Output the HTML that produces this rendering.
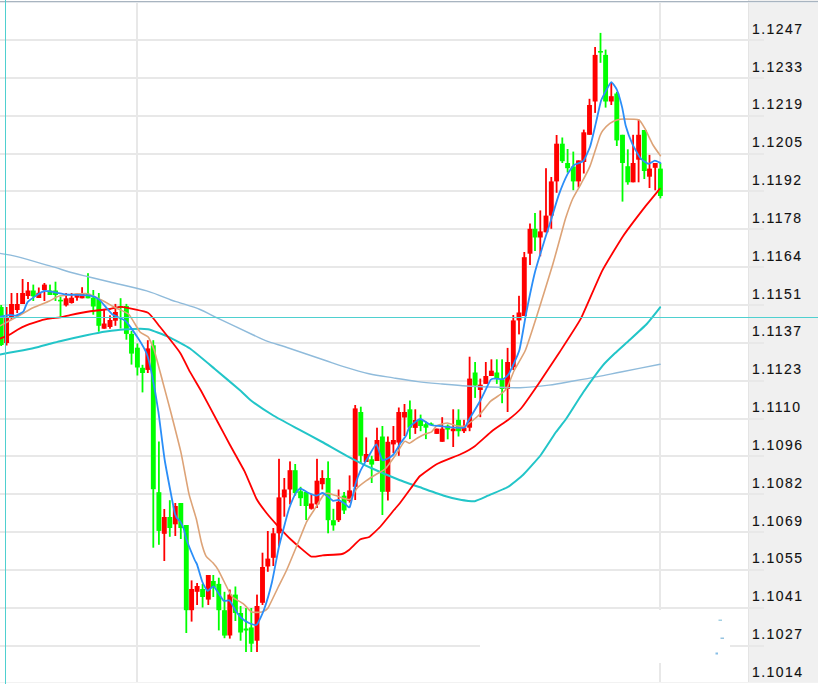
<!DOCTYPE html>
<html><head><meta charset="utf-8">
<style>
html,body{margin:0;padding:0;background:#fff;}
body{width:818px;height:684px;overflow:hidden;position:relative;}
svg{position:absolute;left:0;top:0;}
text{font-family:"Liberation Sans",sans-serif;font-size:14px;fill:#111;letter-spacing:1.45px;stroke:#111;stroke-width:0.12px;}
</style></head><body>
<svg width="818" height="684" viewBox="0 0 818 684">
<g shape-rendering="crispEdges">
<rect x="748" y="0" width="70" height="682" fill="#f0f0f0"/>
<rect x="748" y="0" width="1" height="682" fill="#e4e4e4"/>
<rect x="0" y="39" width="764" height="2" fill="#e8e8e8"/>
<rect x="0" y="77" width="764" height="2" fill="#e8e8e8"/>
<rect x="0" y="115" width="764" height="2" fill="#e8e8e8"/>
<rect x="0" y="153" width="764" height="2" fill="#e8e8e8"/>
<rect x="0" y="190" width="764" height="2" fill="#e8e8e8"/>
<rect x="0" y="228" width="764" height="2" fill="#e8e8e8"/>
<rect x="0" y="266" width="764" height="2" fill="#e8e8e8"/>
<rect x="0" y="304" width="764" height="2" fill="#e8e8e8"/>
<rect x="0" y="342" width="764" height="2" fill="#e8e8e8"/>
<rect x="0" y="380" width="764" height="2" fill="#e8e8e8"/>
<rect x="0" y="418" width="764" height="2" fill="#e8e8e8"/>
<rect x="0" y="455" width="764" height="2" fill="#e8e8e8"/>
<rect x="0" y="493" width="764" height="2" fill="#e8e8e8"/>
<rect x="0" y="531" width="764" height="2" fill="#e8e8e8"/>
<rect x="0" y="569" width="764" height="2" fill="#e8e8e8"/>
<rect x="0" y="607" width="764" height="2" fill="#e8e8e8"/>
<rect x="0" y="645" width="764" height="2" fill="#e8e8e8"/>
<rect x="136" y="2" width="2" height="681" fill="#e8e8e8"/>
<rect x="659" y="2" width="2" height="681" fill="#e8e8e8"/>
<rect x="480" y="610" width="250" height="53" fill="#ffffff"/>
<rect x="0" y="1" width="818" height="1" fill="#a8b4c0"/><rect x="0" y="2" width="818" height="1" fill="#e4e8ec"/>
<rect x="0" y="682" width="818" height="1" fill="#f2f2f2"/><rect x="480" y="610" width="250" height="53" fill="#ffffff"/>
</g>
<g>
<rect x="0.30" y="305.0" width="1.8" height="41.0" fill="#00ff00"/>
<rect x="-1.25" y="307.0" width="4.9" height="38.0" fill="#00ff00"/>
<rect x="5.70" y="307.0" width="1.8" height="38.5" fill="#ff0000"/>
<rect x="4.15" y="318.0" width="4.9" height="25.0" fill="#ff0000"/>
<rect x="10.60" y="293.0" width="1.8" height="27.0" fill="#ff0000"/>
<rect x="9.05" y="304.0" width="4.9" height="14.0" fill="#ff0000"/>
<rect x="16.30" y="293.0" width="1.8" height="20.0" fill="#ff0000"/>
<rect x="14.75" y="304.0" width="4.9" height="6.0" fill="#ff0000"/>
<rect x="21.70" y="279.0" width="1.8" height="25.0" fill="#ff0000"/>
<rect x="20.15" y="293.0" width="4.9" height="11.0" fill="#ff0000"/>
<rect x="27.10" y="282.0" width="1.8" height="17.0" fill="#ff0000"/>
<rect x="25.55" y="290.5" width="4.9" height="5.5" fill="#ff0000"/>
<rect x="32.40" y="284.6" width="1.8" height="16.4" fill="#00ff00"/>
<rect x="30.85" y="290.5" width="4.9" height="5.8" fill="#00ff00"/>
<rect x="37.90" y="287.5" width="1.8" height="10.5" fill="#ff0000"/>
<rect x="36.35" y="292.8" width="4.9" height="5.2" fill="#ff0000"/>
<rect x="43.50" y="283.0" width="1.8" height="18.0" fill="#ff0000"/>
<rect x="41.95" y="284.6" width="4.9" height="5.4" fill="#ff0000"/>
<rect x="49.10" y="284.6" width="1.8" height="10.4" fill="#00ff00"/>
<rect x="47.55" y="290.5" width="4.9" height="4.5" fill="#00ff00"/>
<rect x="54.60" y="281.7" width="1.8" height="19.3" fill="#00ff00"/>
<rect x="53.05" y="290.5" width="4.9" height="4.5" fill="#00ff00"/>
<rect x="59.60" y="296.7" width="1.8" height="19.8" fill="#00ff00"/>
<rect x="58.05" y="299.8" width="4.9" height="1.6" fill="#00ff00"/>
<rect x="65.20" y="293.0" width="1.8" height="13.5" fill="#ff0000"/>
<rect x="63.65" y="298.3" width="4.9" height="7.1" fill="#ff0000"/>
<rect x="70.70" y="293.0" width="1.8" height="10.6" fill="#ff0000"/>
<rect x="69.15" y="297.7" width="4.9" height="5.3" fill="#ff0000"/>
<rect x="76.10" y="293.7" width="1.8" height="7.0" fill="#ff0000"/>
<rect x="74.55" y="293.7" width="4.9" height="4.0" fill="#ff0000"/>
<rect x="81.20" y="287.2" width="1.8" height="11.1" fill="#ff0000"/>
<rect x="79.65" y="293.7" width="4.9" height="4.6" fill="#ff0000"/>
<rect x="87.10" y="273.2" width="1.8" height="25.1" fill="#00ff00"/>
<rect x="85.55" y="293.7" width="4.9" height="4.6" fill="#00ff00"/>
<rect x="92.40" y="290.0" width="1.8" height="24.7" fill="#00ff00"/>
<rect x="90.85" y="297.7" width="4.9" height="8.8" fill="#00ff00"/>
<rect x="97.90" y="293.0" width="1.8" height="38.7" fill="#00ff00"/>
<rect x="96.35" y="299.0" width="4.9" height="26.8" fill="#00ff00"/>
<rect x="103.20" y="310.0" width="1.8" height="18.7" fill="#ff0000"/>
<rect x="101.65" y="323.5" width="4.9" height="5.2" fill="#ff0000"/>
<rect x="109.10" y="315.3" width="1.8" height="13.4" fill="#ff0000"/>
<rect x="107.55" y="320.0" width="4.9" height="7.0" fill="#ff0000"/>
<rect x="114.50" y="303.9" width="1.8" height="21.9" fill="#ff0000"/>
<rect x="112.95" y="312.0" width="4.9" height="8.7" fill="#ff0000"/>
<rect x="119.70" y="298.2" width="1.8" height="30.3" fill="#00ff00"/>
<rect x="118.15" y="306.3" width="4.9" height="1.6" fill="#00ff00"/>
<rect x="125.50" y="303.9" width="1.8" height="35.8" fill="#00ff00"/>
<rect x="123.95" y="306.0" width="4.9" height="27.9" fill="#00ff00"/>
<rect x="130.60" y="331.0" width="1.8" height="33.6" fill="#00ff00"/>
<rect x="129.05" y="333.9" width="4.9" height="19.7" fill="#00ff00"/>
<rect x="136.50" y="343.4" width="1.8" height="32.1" fill="#00ff00"/>
<rect x="134.95" y="347.7" width="4.9" height="19.8" fill="#00ff00"/>
<rect x="141.60" y="364.8" width="1.8" height="27.6" fill="#00ff00"/>
<rect x="140.05" y="367.8" width="4.9" height="5.2" fill="#00ff00"/>
<rect x="146.90" y="340.2" width="1.8" height="32.8" fill="#ff0000"/>
<rect x="145.35" y="348.4" width="4.9" height="21.5" fill="#ff0000"/>
<rect x="152.40" y="340.2" width="1.8" height="207.5" fill="#00ff00"/>
<rect x="150.85" y="345.3" width="4.9" height="143.9" fill="#00ff00"/>
<rect x="158.00" y="441.5" width="1.8" height="103.3" fill="#00ff00"/>
<rect x="156.45" y="492.2" width="4.9" height="38.7" fill="#00ff00"/>
<rect x="163.40" y="509.0" width="1.8" height="52.0" fill="#ff0000"/>
<rect x="161.85" y="517.0" width="4.9" height="16.8" fill="#ff0000"/>
<rect x="168.90" y="500.2" width="1.8" height="36.6" fill="#00ff00"/>
<rect x="167.35" y="517.0" width="4.9" height="11.0" fill="#00ff00"/>
<rect x="174.40" y="503.0" width="1.8" height="33.0" fill="#ff0000"/>
<rect x="172.85" y="506.0" width="4.9" height="18.3" fill="#ff0000"/>
<rect x="179.90" y="503.0" width="1.8" height="36.0" fill="#00ff00"/>
<rect x="178.35" y="503.0" width="4.9" height="25.0" fill="#00ff00"/>
<rect x="185.40" y="525.0" width="1.8" height="108.0" fill="#00ff00"/>
<rect x="183.85" y="525.0" width="4.9" height="85.2" fill="#00ff00"/>
<rect x="190.70" y="580.4" width="1.8" height="41.2" fill="#ff0000"/>
<rect x="189.15" y="589.0" width="4.9" height="21.2" fill="#ff0000"/>
<rect x="196.20" y="583.0" width="1.8" height="22.0" fill="#ff0000"/>
<rect x="194.65" y="586.0" width="4.9" height="5.8" fill="#ff0000"/>
<rect x="201.70" y="583.9" width="1.8" height="23.6" fill="#00ff00"/>
<rect x="200.15" y="589.0" width="4.9" height="8.0" fill="#00ff00"/>
<rect x="207.40" y="575.0" width="1.8" height="30.0" fill="#ff0000"/>
<rect x="205.85" y="575.0" width="4.9" height="24.6" fill="#ff0000"/>
<rect x="212.40" y="575.0" width="1.8" height="22.0" fill="#00ff00"/>
<rect x="210.85" y="581.0" width="4.9" height="6.4" fill="#00ff00"/>
<rect x="217.90" y="577.7" width="1.8" height="52.7" fill="#00ff00"/>
<rect x="216.35" y="583.9" width="4.9" height="26.3" fill="#00ff00"/>
<rect x="223.60" y="591.8" width="1.8" height="46.4" fill="#00ff00"/>
<rect x="222.05" y="610.2" width="4.9" height="25.4" fill="#00ff00"/>
<rect x="228.90" y="589.5" width="1.8" height="49.1" fill="#ff0000"/>
<rect x="227.35" y="594.6" width="4.9" height="40.9" fill="#ff0000"/>
<rect x="234.50" y="586.5" width="1.8" height="34.5" fill="#00ff00"/>
<rect x="232.95" y="594.6" width="4.9" height="18.4" fill="#00ff00"/>
<rect x="239.70" y="606.0" width="1.8" height="34.7" fill="#00ff00"/>
<rect x="238.15" y="613.0" width="4.9" height="19.5" fill="#00ff00"/>
<rect x="245.10" y="608.0" width="1.8" height="44.0" fill="#00ff00"/>
<rect x="243.55" y="628.5" width="4.9" height="2.0" fill="#00ff00"/>
<rect x="250.40" y="608.0" width="1.8" height="44.0" fill="#00ff00"/>
<rect x="248.85" y="627.4" width="4.9" height="16.3" fill="#00ff00"/>
<rect x="256.10" y="594.6" width="1.8" height="57.4" fill="#ff0000"/>
<rect x="254.55" y="606.0" width="4.9" height="34.7" fill="#ff0000"/>
<rect x="261.60" y="552.7" width="1.8" height="52.3" fill="#ff0000"/>
<rect x="260.05" y="567.0" width="4.9" height="35.8" fill="#ff0000"/>
<rect x="266.90" y="531.0" width="1.8" height="40.8" fill="#ff0000"/>
<rect x="265.35" y="558.6" width="4.9" height="7.9" fill="#ff0000"/>
<rect x="272.40" y="528.0" width="1.8" height="38.0" fill="#ff0000"/>
<rect x="270.85" y="533.3" width="4.9" height="24.5" fill="#ff0000"/>
<rect x="278.10" y="458.8" width="1.8" height="87.7" fill="#ff0000"/>
<rect x="276.55" y="497.4" width="4.9" height="35.9" fill="#ff0000"/>
<rect x="283.40" y="478.0" width="1.8" height="38.7" fill="#ff0000"/>
<rect x="281.85" y="489.5" width="4.9" height="7.9" fill="#ff0000"/>
<rect x="289.10" y="461.4" width="1.8" height="43.0" fill="#ff0000"/>
<rect x="287.55" y="470.2" width="4.9" height="19.3" fill="#ff0000"/>
<rect x="294.30" y="464.0" width="1.8" height="31.6" fill="#00ff00"/>
<rect x="292.75" y="470.2" width="4.9" height="22.8" fill="#00ff00"/>
<rect x="299.70" y="486.8" width="1.8" height="19.2" fill="#00ff00"/>
<rect x="298.15" y="491.2" width="4.9" height="7.0" fill="#00ff00"/>
<rect x="305.20" y="492.0" width="1.8" height="28.0" fill="#00ff00"/>
<rect x="303.65" y="492.0" width="4.9" height="14.0" fill="#00ff00"/>
<rect x="310.50" y="493.9" width="1.8" height="15.7" fill="#ff0000"/>
<rect x="308.95" y="503.5" width="4.9" height="5.3" fill="#ff0000"/>
<rect x="316.10" y="458.8" width="1.8" height="49.2" fill="#ff0000"/>
<rect x="314.55" y="480.7" width="4.9" height="23.7" fill="#ff0000"/>
<rect x="321.40" y="470.2" width="1.8" height="19.3" fill="#ff0000"/>
<rect x="319.85" y="478.0" width="4.9" height="6.2" fill="#ff0000"/>
<rect x="327.20" y="461.4" width="1.8" height="71.9" fill="#00ff00"/>
<rect x="325.65" y="478.0" width="4.9" height="42.2" fill="#00ff00"/>
<rect x="332.50" y="508.8" width="1.8" height="21.9" fill="#00ff00"/>
<rect x="330.95" y="520.2" width="4.9" height="5.2" fill="#00ff00"/>
<rect x="337.70" y="489.5" width="1.8" height="32.5" fill="#ff0000"/>
<rect x="336.15" y="501.8" width="4.9" height="18.4" fill="#ff0000"/>
<rect x="343.20" y="492.0" width="1.8" height="22.0" fill="#00ff00"/>
<rect x="341.65" y="495.6" width="4.9" height="14.9" fill="#00ff00"/>
<rect x="348.70" y="475.4" width="1.8" height="27.2" fill="#ff0000"/>
<rect x="347.15" y="490.4" width="4.9" height="10.5" fill="#ff0000"/>
<rect x="354.30" y="405.0" width="1.8" height="95.0" fill="#ff0000"/>
<rect x="352.75" y="408.4" width="4.9" height="78.4" fill="#ff0000"/>
<rect x="359.90" y="406.7" width="1.8" height="57.0" fill="#00ff00"/>
<rect x="358.35" y="412.0" width="4.9" height="43.8" fill="#00ff00"/>
<rect x="365.30" y="437.4" width="1.8" height="24.6" fill="#ff0000"/>
<rect x="363.75" y="454.0" width="4.9" height="8.0" fill="#ff0000"/>
<rect x="370.80" y="455.8" width="1.8" height="27.2" fill="#00ff00"/>
<rect x="369.25" y="459.3" width="4.9" height="5.3" fill="#00ff00"/>
<rect x="376.10" y="427.7" width="1.8" height="33.3" fill="#ff0000"/>
<rect x="374.55" y="440.0" width="4.9" height="21.0" fill="#ff0000"/>
<rect x="381.50" y="426.0" width="1.8" height="89.0" fill="#00ff00"/>
<rect x="379.95" y="436.5" width="4.9" height="55.3" fill="#00ff00"/>
<rect x="387.00" y="436.5" width="1.8" height="64.0" fill="#ff0000"/>
<rect x="385.45" y="441.8" width="4.9" height="50.0" fill="#ff0000"/>
<rect x="392.50" y="426.0" width="1.8" height="27.2" fill="#ff0000"/>
<rect x="390.95" y="440.0" width="4.9" height="4.4" fill="#ff0000"/>
<rect x="397.90" y="407.5" width="1.8" height="48.3" fill="#ff0000"/>
<rect x="396.35" y="412.0" width="4.9" height="30.6" fill="#ff0000"/>
<rect x="403.60" y="404.0" width="1.8" height="32.0" fill="#ff0000"/>
<rect x="402.05" y="412.0" width="4.9" height="5.5" fill="#ff0000"/>
<rect x="409.00" y="400.5" width="1.8" height="38.6" fill="#00ff00"/>
<rect x="407.45" y="409.3" width="4.9" height="18.4" fill="#00ff00"/>
<rect x="414.40" y="409.3" width="1.8" height="24.6" fill="#ff0000"/>
<rect x="412.85" y="420.0" width="4.9" height="7.9" fill="#ff0000"/>
<rect x="419.70" y="414.6" width="1.8" height="16.6" fill="#00ff00"/>
<rect x="418.15" y="419.8" width="4.9" height="6.2" fill="#00ff00"/>
<rect x="425.00" y="421.6" width="1.8" height="17.5" fill="#00ff00"/>
<rect x="423.45" y="424.2" width="4.9" height="3.5" fill="#00ff00"/>
<rect x="430.20" y="422.5" width="1.8" height="2.5" fill="#00ff00"/>
<rect x="428.65" y="423.5" width="4.9" height="1.6" fill="#00ff00"/>
<rect x="435.90" y="428.6" width="1.8" height="5.3" fill="#ff0000"/>
<rect x="434.35" y="428.6" width="4.9" height="5.3" fill="#ff0000"/>
<rect x="441.30" y="417.2" width="1.8" height="24.6" fill="#ff0000"/>
<rect x="439.75" y="428.6" width="4.9" height="13.2" fill="#ff0000"/>
<rect x="446.80" y="424.5" width="1.8" height="14.8" fill="#00ff00"/>
<rect x="445.25" y="425.7" width="4.9" height="3.9" fill="#00ff00"/>
<rect x="452.30" y="409.3" width="1.8" height="37.7" fill="#ff0000"/>
<rect x="450.75" y="428.6" width="4.9" height="2.6" fill="#ff0000"/>
<rect x="457.60" y="409.3" width="1.8" height="27.2" fill="#00ff00"/>
<rect x="456.05" y="419.8" width="4.9" height="11.4" fill="#00ff00"/>
<rect x="463.10" y="419.8" width="1.8" height="13.2" fill="#ff0000"/>
<rect x="461.55" y="427.7" width="4.9" height="3.5" fill="#ff0000"/>
<rect x="468.70" y="356.7" width="1.8" height="74.5" fill="#ff0000"/>
<rect x="467.15" y="378.6" width="4.9" height="49.1" fill="#ff0000"/>
<rect x="474.20" y="362.0" width="1.8" height="35.9" fill="#00ff00"/>
<rect x="472.65" y="372.5" width="4.9" height="13.1" fill="#00ff00"/>
<rect x="479.40" y="378.6" width="1.8" height="38.6" fill="#ff0000"/>
<rect x="477.85" y="384.7" width="4.9" height="5.3" fill="#ff0000"/>
<rect x="484.90" y="362.0" width="1.8" height="21.9" fill="#ff0000"/>
<rect x="483.35" y="376.0" width="4.9" height="7.9" fill="#ff0000"/>
<rect x="490.50" y="359.3" width="1.8" height="16.7" fill="#ff0000"/>
<rect x="488.95" y="370.7" width="4.9" height="5.3" fill="#ff0000"/>
<rect x="495.90" y="359.3" width="1.8" height="24.6" fill="#00ff00"/>
<rect x="494.35" y="372.5" width="4.9" height="6.1" fill="#00ff00"/>
<rect x="501.20" y="359.3" width="1.8" height="43.9" fill="#00ff00"/>
<rect x="499.65" y="379.5" width="4.9" height="9.5" fill="#00ff00"/>
<rect x="506.70" y="347.9" width="1.8" height="64.1" fill="#ff0000"/>
<rect x="505.15" y="362.0" width="4.9" height="27.0" fill="#ff0000"/>
<rect x="512.40" y="315.0" width="1.8" height="55.0" fill="#ff0000"/>
<rect x="510.85" y="320.4" width="4.9" height="46.8" fill="#ff0000"/>
<rect x="518.10" y="295.8" width="1.8" height="38.6" fill="#ff0000"/>
<rect x="516.55" y="312.5" width="4.9" height="7.9" fill="#ff0000"/>
<rect x="523.40" y="252.0" width="1.8" height="64.0" fill="#ff0000"/>
<rect x="521.85" y="257.2" width="4.9" height="58.8" fill="#ff0000"/>
<rect x="529.10" y="223.5" width="1.8" height="41.5" fill="#ff0000"/>
<rect x="527.55" y="228.8" width="4.9" height="24.9" fill="#ff0000"/>
<rect x="534.10" y="213.0" width="1.8" height="38.0" fill="#00ff00"/>
<rect x="532.55" y="228.8" width="4.9" height="8.7" fill="#00ff00"/>
<rect x="539.40" y="210.4" width="1.8" height="45.9" fill="#ff0000"/>
<rect x="537.85" y="231.4" width="4.9" height="6.1" fill="#ff0000"/>
<rect x="545.10" y="168.2" width="1.8" height="64.1" fill="#ff0000"/>
<rect x="543.55" y="215.6" width="4.9" height="16.7" fill="#ff0000"/>
<rect x="550.40" y="177.0" width="1.8" height="51.8" fill="#ff0000"/>
<rect x="548.85" y="181.4" width="4.9" height="34.2" fill="#ff0000"/>
<rect x="555.70" y="135.0" width="1.8" height="57.8" fill="#ff0000"/>
<rect x="554.15" y="143.7" width="4.9" height="37.7" fill="#ff0000"/>
<rect x="561.40" y="137.5" width="1.8" height="25.5" fill="#00ff00"/>
<rect x="559.85" y="143.7" width="4.9" height="17.5" fill="#00ff00"/>
<rect x="566.70" y="149.0" width="1.8" height="23.6" fill="#00ff00"/>
<rect x="565.15" y="163.0" width="4.9" height="5.2" fill="#00ff00"/>
<rect x="572.40" y="151.6" width="1.8" height="38.6" fill="#00ff00"/>
<rect x="570.85" y="166.5" width="4.9" height="14.9" fill="#00ff00"/>
<rect x="577.60" y="160.4" width="1.8" height="27.1" fill="#ff0000"/>
<rect x="576.05" y="160.4" width="4.9" height="21.0" fill="#ff0000"/>
<rect x="582.90" y="129.6" width="1.8" height="43.9" fill="#ff0000"/>
<rect x="581.35" y="132.3" width="4.9" height="29.7" fill="#ff0000"/>
<rect x="588.60" y="98.8" width="1.8" height="36.0" fill="#ff0000"/>
<rect x="587.05" y="105.0" width="4.9" height="29.8" fill="#ff0000"/>
<rect x="594.20" y="47.0" width="1.8" height="65.9" fill="#ff0000"/>
<rect x="592.65" y="54.9" width="4.9" height="46.6" fill="#ff0000"/>
<rect x="599.60" y="32.9" width="1.8" height="29.9" fill="#00ff00"/>
<rect x="598.05" y="51.0" width="4.9" height="1.6" fill="#00ff00"/>
<rect x="604.70" y="49.6" width="1.8" height="58.0" fill="#00ff00"/>
<rect x="603.15" y="54.9" width="4.9" height="46.6" fill="#00ff00"/>
<rect x="610.40" y="83.0" width="1.8" height="22.0" fill="#ff0000"/>
<rect x="608.85" y="96.2" width="4.9" height="5.3" fill="#ff0000"/>
<rect x="615.90" y="91.8" width="1.8" height="54.2" fill="#00ff00"/>
<rect x="614.35" y="93.5" width="4.9" height="46.9" fill="#00ff00"/>
<rect x="621.60" y="134.8" width="1.8" height="66.8" fill="#00ff00"/>
<rect x="620.05" y="134.8" width="4.9" height="28.2" fill="#00ff00"/>
<rect x="626.90" y="149.3" width="1.8" height="35.4" fill="#00ff00"/>
<rect x="625.35" y="166.2" width="4.9" height="16.1" fill="#00ff00"/>
<rect x="632.20" y="134.8" width="1.8" height="47.5" fill="#ff0000"/>
<rect x="630.65" y="163.0" width="4.9" height="19.3" fill="#ff0000"/>
<rect x="637.70" y="119.5" width="1.8" height="62.8" fill="#ff0000"/>
<rect x="636.15" y="134.8" width="4.9" height="24.9" fill="#ff0000"/>
<rect x="643.40" y="130.0" width="1.8" height="49.0" fill="#00ff00"/>
<rect x="641.85" y="130.0" width="4.9" height="41.0" fill="#00ff00"/>
<rect x="648.60" y="154.9" width="1.8" height="33.1" fill="#ff0000"/>
<rect x="647.05" y="168.6" width="4.9" height="8.1" fill="#ff0000"/>
<rect x="654.30" y="163.0" width="1.8" height="27.3" fill="#ff0000"/>
<rect x="652.75" y="163.0" width="4.9" height="4.8" fill="#ff0000"/>
<rect x="659.50" y="163.0" width="1.8" height="35.4" fill="#00ff00"/>
<rect x="657.95" y="168.6" width="4.9" height="27.4" fill="#00ff00"/>
<rect x="718.5" y="619.5" width="3.5" height="1.5" fill="#8cc4dc" opacity="0.8"/>
<rect x="720.5" y="637.5" width="3.5" height="1.5" fill="#7ab4d8" opacity="0.8"/>
<rect x="715.5" y="652.5" width="2.5" height="2" fill="#6aaee0" opacity="0.8"/>
</g>
<path d="M0.00,253.40 C2.85,253.93 8.95,254.55 17.10,256.60 C25.25,258.65 39.53,262.97 48.90,265.70 C58.27,268.43 66.78,271.17 73.30,273.00 C79.82,274.83 81.88,275.20 88.00,276.70 C94.12,278.20 100.22,279.63 110.00,282.00 C119.78,284.37 136.53,287.90 146.70,290.90 C156.87,293.90 165.45,298.02 171.00,300.00 C176.55,301.98 175.17,301.22 180.00,302.80 C184.83,304.38 194.08,307.10 200.00,309.50 C205.92,311.90 206.62,312.95 215.50,317.20 C224.38,321.45 244.95,331.10 253.30,335.00 C261.65,338.90 259.48,338.35 265.60,340.60 C271.72,342.85 280.27,345.27 290.00,348.50 C299.73,351.73 314.93,356.93 324.00,360.00 C333.07,363.07 336.92,364.62 344.40,366.90 C351.88,369.18 360.75,371.87 368.90,373.70 C377.05,375.53 385.15,376.58 393.30,377.90 C401.45,379.22 409.65,380.58 417.80,381.60 C425.95,382.62 434.05,383.27 442.20,384.00 C450.35,384.73 458.55,385.50 466.70,386.00 C474.85,386.50 482.22,386.72 491.10,387.00 C499.98,387.28 510.37,388.02 520.00,387.70 C529.63,387.38 540.02,386.22 548.90,385.10 C557.78,383.98 565.15,382.42 573.30,381.00 C581.45,379.58 589.65,378.15 597.80,376.60 C605.95,375.05 611.82,373.75 622.20,371.70 C632.58,369.65 653.78,365.53 660.10,364.30" fill="none" stroke="#8fbbdb" stroke-width="1.4" stroke-linejoin="round" stroke-linecap="round"/>
<path d="M0.00,354.40 C1.17,354.19 15.17,351.74 17.50,351.30 C19.83,350.86 32.95,348.27 35.00,347.80 C37.05,347.33 46.53,344.74 48.20,344.30 C49.87,343.86 57.37,341.82 60.00,341.20 C62.63,340.58 84.53,335.65 87.60,335.00 C90.67,334.35 103.61,331.87 106.00,331.50 C108.39,331.13 120.60,329.55 123.40,329.40 C126.20,329.25 144.99,328.71 148.00,329.20 C151.01,329.69 165.70,335.51 168.50,336.80 C171.30,338.09 186.93,346.37 190.00,348.50 C193.07,350.63 211.17,365.91 214.50,368.70 C217.83,371.49 237.55,388.16 240.00,390.30 C242.45,392.44 249.08,399.12 251.30,400.80 C253.52,402.48 270.20,413.63 273.30,415.50 C276.40,417.37 294.54,427.13 297.80,428.90 C301.06,430.67 318.94,440.21 322.20,442.00 C325.46,443.79 343.44,454.07 346.70,455.80 C349.96,457.53 367.55,466.37 371.10,468.00 C374.65,469.63 396.61,478.87 400.00,480.20 C403.39,481.53 419.07,486.97 422.00,488.00 C424.93,489.03 441.36,494.89 444.00,495.70 C446.64,496.51 459.55,499.73 461.60,500.10 C463.65,500.47 473.04,501.49 474.80,501.20 C476.56,500.91 485.80,496.65 488.00,495.70 C490.20,494.75 505.45,488.39 507.80,487.00 C510.15,485.61 521.00,476.93 523.20,474.80 C525.40,472.67 538.61,457.85 540.80,455.00 C542.99,452.15 554.32,434.40 556.00,432.00 C557.68,429.60 564.19,421.63 566.00,419.00 C567.81,416.37 580.65,396.06 583.10,392.50 C585.55,388.94 600.58,368.21 602.70,365.60 C604.82,362.99 613.11,355.01 614.90,353.30 C616.69,351.59 627.48,341.95 629.60,340.00 C631.72,338.05 644.67,326.17 646.70,324.00 C648.73,321.83 659.21,308.51 660.10,307.40" fill="none" stroke="#22c5c8" stroke-width="2" stroke-linejoin="round" stroke-linecap="round"/>
<path d="M0.00,338.60 C0.59,338.37 7.63,335.69 8.80,335.10 C9.97,334.51 16.33,330.45 17.50,329.80 C18.67,329.15 25.13,325.89 26.30,325.40 C27.47,324.91 33.83,322.78 35.00,322.40 C36.17,322.02 42.73,319.98 43.90,319.70 C45.07,319.42 51.53,318.35 52.60,318.20 C53.67,318.05 58.84,317.61 60.00,317.40 C61.16,317.19 68.07,315.49 70.00,315.10 C71.93,314.71 86.33,311.91 89.00,311.50 C91.67,311.09 107.82,309.31 110.00,309.00 C112.18,308.69 119.17,306.55 121.70,306.80 C124.23,307.05 145.47,311.39 148.00,312.70 C150.53,314.01 157.55,323.82 159.70,326.50 C161.85,329.18 178.18,349.87 180.20,352.90 C182.22,355.93 188.59,369.34 190.00,371.90 C191.41,374.46 199.45,387.96 201.30,391.30 C203.15,394.64 215.79,418.42 217.70,422.00 C219.61,425.58 228.21,441.71 230.00,445.00 C231.79,448.29 242.85,467.83 244.60,471.40 C246.35,474.97 254.84,495.73 256.30,498.50 C257.76,501.27 265.13,511.25 266.50,513.00 C267.87,514.75 275.14,523.00 276.80,524.80 C278.46,526.60 289.12,537.89 291.40,540.00 C293.68,542.11 308.92,555.48 311.00,556.50 C313.08,557.52 320.53,555.47 322.60,555.30 C324.67,555.13 340.24,554.35 342.00,554.00 C343.76,553.65 347.80,550.97 349.00,550.00 C350.20,549.03 358.65,540.37 360.00,539.50 C361.35,538.63 367.87,537.73 369.20,536.90 C370.53,536.07 378.35,528.79 380.00,527.00 C381.65,525.21 392.67,511.60 394.00,510.00 C395.33,508.40 398.87,504.47 400.00,503.00 C401.13,501.53 409.67,489.80 411.00,488.00 C412.33,486.20 418.27,477.60 420.00,476.00 C421.73,474.40 434.27,465.47 437.00,464.00 C439.73,462.53 458.48,455.19 461.00,454.00 C463.52,452.81 472.71,447.75 474.80,446.20 C476.89,444.65 490.19,432.55 492.40,430.80 C494.61,429.05 506.09,421.49 508.00,420.00 C509.91,418.51 518.96,410.92 521.00,408.50 C523.04,406.08 536.02,387.47 538.60,383.70 C541.18,379.93 556.89,356.33 559.70,352.00 C562.51,347.67 577.99,324.08 580.80,318.70 C583.61,313.32 599.09,276.80 601.90,271.30 C604.71,265.80 620.19,240.41 623.00,236.20 C625.81,231.99 641.55,211.26 644.00,208.10 C646.45,204.94 658.75,190.09 659.80,188.80" fill="none" stroke="#ff0000" stroke-width="1.8" stroke-linejoin="round" stroke-linecap="round"/>
<path d="M0.00,325.80 C1.65,324.92 17.05,316.71 19.80,315.20 C22.55,313.69 30.52,308.88 33.00,307.70 C35.48,306.52 47.30,301.98 49.50,301.00 C51.70,300.02 56.38,296.62 59.40,296.00 C62.42,295.38 82.50,293.27 85.80,293.50 C89.10,293.73 96.53,297.52 99.00,298.70 C101.47,299.88 113.03,306.40 115.50,307.70 C117.97,309.00 126.66,312.28 128.70,314.30 C130.74,316.32 138.38,330.11 140.00,332.00 C141.62,333.89 147.01,335.47 148.20,337.00 C149.39,338.53 153.11,346.73 154.30,350.40 C155.49,354.07 161.13,375.88 162.50,381.00 C163.87,386.12 169.16,405.82 170.70,411.80 C172.24,417.78 179.48,445.88 181.00,452.70 C182.52,459.52 187.63,488.12 188.90,493.60 C190.17,499.08 195.17,514.47 196.20,518.50 C197.23,522.53 200.49,538.89 201.30,542.00 C202.11,545.11 204.93,554.07 205.90,555.80 C206.87,557.53 211.88,561.63 212.90,562.80 C213.93,563.97 216.88,567.46 218.20,569.80 C219.52,572.14 227.45,588.57 228.70,590.90 C229.95,593.23 231.97,596.62 233.20,597.70 C234.42,598.78 241.87,602.61 243.40,603.80 C244.93,604.99 250.07,611.32 251.60,612.00 C253.13,612.68 260.43,612.33 261.80,612.00 C263.17,611.67 266.65,610.04 268.00,608.00 C269.35,605.96 276.44,590.67 278.00,587.50 C279.56,584.33 284.93,573.96 286.70,570.00 C288.47,566.04 297.54,544.01 299.20,540.00 C300.86,535.99 305.38,524.38 306.60,521.90 C307.83,519.42 312.44,512.52 313.90,510.20 C315.36,507.88 322.88,495.50 324.10,494.10 C325.32,492.70 327.52,493.27 328.50,493.40 C329.48,493.52 334.01,495.09 335.80,495.60 C337.59,496.11 348.23,500.12 350.00,499.50 C351.77,498.88 355.61,489.79 357.00,488.20 C358.39,486.61 365.09,481.57 366.70,480.40 C368.31,479.23 374.77,475.15 376.30,474.20 C377.83,473.25 383.49,470.60 385.10,469.00 C386.71,467.40 393.99,457.29 395.60,455.00 C397.21,452.71 403.23,442.48 404.40,441.50 C405.57,440.52 408.51,443.49 409.60,443.20 C410.69,442.91 416.11,438.80 417.50,438.00 C418.89,437.20 425.12,434.12 426.30,433.60 C427.48,433.08 430.73,432.46 431.60,431.80 C432.48,431.14 435.48,426.43 436.80,425.70 C438.12,424.97 445.79,423.00 447.40,423.00 C449.01,423.00 454.64,425.44 456.10,425.70 C457.56,425.96 463.47,426.58 464.90,426.10 C466.33,425.62 472.00,421.05 473.30,420.00 C474.60,418.95 479.05,415.07 480.50,413.50 C481.95,411.93 488.99,402.82 490.70,401.20 C492.41,399.57 499.64,395.11 501.00,394.00 C502.36,392.89 505.90,389.86 507.00,387.90 C508.10,385.94 512.66,373.66 514.20,370.50 C515.74,367.34 523.62,354.54 525.50,350.00 C527.38,345.46 534.54,323.08 536.80,316.00 C539.06,308.92 550.48,272.17 552.60,265.00 C554.73,257.83 561.22,233.90 562.30,230.00 C563.38,226.10 564.74,220.78 565.60,218.20 C566.46,215.62 571.28,201.92 572.60,199.00 C573.92,196.08 579.93,185.98 581.40,183.20 C582.87,180.42 588.65,169.55 590.20,165.60 C591.75,161.65 598.95,138.73 600.00,135.80 C601.05,132.87 601.97,131.43 602.80,130.40 C603.62,129.37 608.73,124.28 609.90,123.40 C611.07,122.53 615.73,120.27 616.90,119.90 C618.07,119.53 622.07,119.00 623.90,119.00 C625.73,119.00 637.14,119.09 638.90,119.90 C640.66,120.71 643.83,126.61 645.00,128.70 C646.17,130.79 651.72,142.75 653.00,145.00 C654.28,147.25 659.78,154.81 660.40,155.70" fill="none" stroke="#dda377" stroke-width="1.6" stroke-linejoin="round" stroke-linecap="round"/>
<path d="M0.00,316.60 C0.92,316.47 9.67,315.08 11.00,315.00 C12.33,314.92 14.97,315.89 16.00,315.60 C17.03,315.31 22.40,312.67 23.40,311.50 C24.40,310.33 26.25,303.31 28.00,301.60 C29.75,299.89 41.23,291.59 44.40,291.00 C47.57,290.41 62.28,294.13 66.00,294.50 C69.72,294.87 86.25,294.99 89.00,295.40 C91.75,295.81 97.07,297.82 99.00,299.40 C100.93,300.97 110.00,312.51 112.20,314.30 C114.40,316.09 123.20,318.84 125.40,320.90 C127.60,322.96 136.80,336.20 138.60,339.00 C140.40,341.80 145.88,351.50 147.00,354.50 C148.12,357.50 151.05,370.23 152.00,375.00 C152.95,379.77 157.34,404.72 158.40,411.80 C159.46,418.88 163.32,451.48 164.70,460.00 C166.08,468.52 173.72,508.88 175.00,514.00 C176.28,519.12 179.38,520.17 180.10,521.40 C180.82,522.62 183.16,527.15 183.70,528.70 C184.24,530.25 185.68,537.39 186.60,540.00 C187.52,542.61 193.82,557.95 194.70,560.00 C195.57,562.05 196.46,562.77 197.10,564.60 C197.74,566.43 201.53,579.81 202.40,582.00 C203.28,584.19 206.65,590.52 207.60,590.90 C208.55,591.27 212.48,585.70 213.80,586.50 C215.12,587.30 222.08,599.33 223.40,600.50 C224.72,601.67 228.62,599.71 229.60,600.50 C230.58,601.29 234.22,608.54 235.20,610.00 C236.18,611.46 240.21,616.89 241.40,618.00 C242.59,619.11 248.22,622.74 249.50,623.30 C250.78,623.86 255.50,625.81 256.70,624.70 C257.90,623.59 262.62,613.56 263.90,610.00 C265.17,606.44 270.77,587.17 272.00,582.00 C273.23,576.83 277.63,552.83 278.70,548.00 C279.77,543.17 283.92,527.33 284.80,524.00 C285.68,520.67 288.34,510.66 289.30,508.00 C290.26,505.34 295.35,493.72 296.30,492.10 C297.25,490.48 299.68,488.53 300.70,488.60 C301.72,488.68 307.28,492.42 308.60,493.00 C309.92,493.58 315.33,495.60 316.50,495.60 C317.67,495.60 321.65,492.93 322.60,493.00 C323.55,493.07 327.02,495.84 327.90,496.50 C328.78,497.16 332.32,500.61 333.20,500.90 C334.07,501.19 337.45,499.78 338.40,500.00 C339.35,500.22 343.65,502.92 344.60,503.50 C345.55,504.08 348.89,508.62 349.80,507.00 C350.71,505.38 354.61,487.02 355.50,484.00 C356.39,480.98 359.50,472.83 360.50,470.70 C361.50,468.57 366.18,460.59 367.50,458.40 C368.82,456.21 375.05,444.25 376.30,444.40 C377.55,444.55 381.11,459.32 382.50,460.20 C383.89,461.08 391.47,456.47 393.00,455.00 C394.53,453.53 399.81,444.22 400.90,442.60 C401.99,440.98 405.38,436.92 406.10,435.60 C406.83,434.28 408.43,428.18 409.60,426.80 C410.78,425.42 418.44,419.15 420.20,419.00 C421.96,418.85 429.05,424.42 430.70,425.00 C432.35,425.58 438.77,425.85 440.00,426.00 C441.23,426.15 444.17,426.66 445.50,426.80 C446.83,426.94 454.39,427.64 456.00,427.70 C457.61,427.76 463.78,428.06 464.80,427.50 C465.82,426.94 466.89,423.27 468.20,421.00 C469.51,418.73 478.62,403.64 480.50,400.20 C482.38,396.76 489.43,381.49 490.70,379.70 C491.97,377.91 494.78,378.74 495.80,378.70 C496.82,378.66 501.89,379.63 503.00,379.20 C504.11,378.77 507.73,375.93 509.10,373.50 C510.47,371.07 517.97,355.08 519.40,350.00 C520.83,344.92 525.00,319.00 526.30,312.50 C527.60,306.00 533.48,278.04 535.00,272.00 C536.52,265.96 543.22,244.48 544.60,240.00 C545.98,235.52 550.43,221.92 551.60,218.20 C552.77,214.48 557.28,199.05 558.60,195.40 C559.92,191.75 566.08,176.96 567.40,174.40 C568.72,171.84 573.08,165.80 574.40,164.70 C575.72,163.60 581.88,162.73 583.20,161.20 C584.52,159.67 589.15,149.45 590.20,146.30 C591.25,143.15 594.89,127.21 595.80,123.40 C596.71,119.59 600.22,103.38 601.10,100.60 C601.98,97.82 605.55,91.54 606.40,90.00 C607.25,88.46 610.42,82.10 611.30,82.10 C612.18,82.10 616.09,87.88 617.00,90.00 C617.91,92.12 621.47,104.60 622.20,107.60 C622.93,110.60 624.97,123.00 625.80,126.00 C626.63,129.00 630.99,140.93 632.20,143.60 C633.41,146.27 638.96,156.32 640.30,158.00 C641.64,159.68 647.09,163.58 648.30,163.80 C649.51,164.02 653.79,160.67 654.80,160.60 C655.81,160.53 659.93,162.80 660.40,163.00" fill="none" stroke="#2b8ef8" stroke-width="1.8" stroke-linejoin="round" stroke-linecap="round"/>
<g shape-rendering="crispEdges">
<rect x="5" y="0" width="1" height="684" fill="#4fd0d0"/>
<rect x="0" y="317" width="818" height="1" fill="#4fd0d0"/>
</g>
<text x="752" y="34">1.1247</text>
<text x="752" y="72">1.1233</text>
<text x="752" y="109">1.1219</text>
<text x="752" y="147">1.1205</text>
<text x="752" y="185">1.1192</text>
<text x="752" y="223">1.1178</text>
<text x="752" y="261">1.1164</text>
<text x="752" y="299">1.1151</text>
<text x="752" y="336">1.1137</text>
<text x="752" y="374">1.1123</text>
<text x="752" y="412">1.1110</text>
<text x="752" y="450">1.1096</text>
<text x="752" y="488">1.1082</text>
<text x="752" y="526">1.1069</text>
<text x="752" y="563">1.1055</text>
<text x="752" y="601">1.1041</text>
<text x="752" y="639">1.1027</text>
<text x="752" y="677">1.1014</text>
</svg>
</body></html>
